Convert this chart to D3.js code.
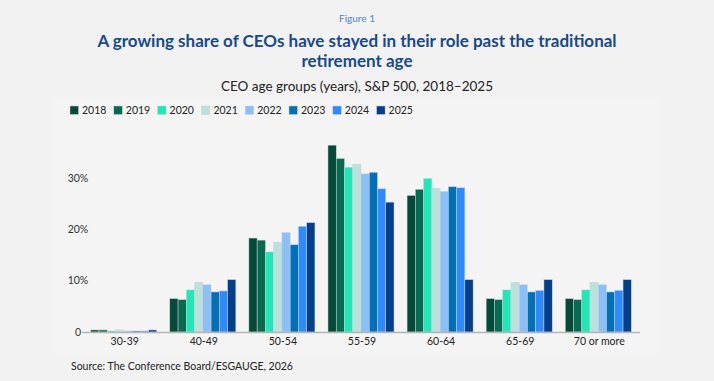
<!DOCTYPE html>
<html>
<head>
<meta charset="utf-8">
<script src="https://cdn.jsdelivr.net/npm/d3@7"></script>
<style>
    body { margin: 0; background: #f2f2f2; }
    svg { display: block; font-family: Lato, "Noto Sans", sans-serif; }
</style>
</head>
<body>
<svg id="chart" width="714" height="381"></svg>
<script>
const categories = ["30-39", "40-49", "50-54", "55-59", "60-64", "65-69", "70 or more"];
const years = ["2018", "2019", "2020", "2021", "2022", "2023", "2024", "2025"];

// share of CEOs (%) per age group, one array per year
const v2018 = [0.4, 6.5, 18.3, 36.4, 26.6, 6.5, 6.5];
const v2019 = [0.4, 6.3, 17.9, 33.8, 27.8, 6.3, 6.3];
const v2020 = [0.2, 8.2, 15.6, 32.1, 29.9, 8.2, 8.2];
const v2021 = [0.4, 9.7, 17.5, 32.7, 28.0, 9.7, 9.7];
const v2022 = [0.2, 9.2, 19.4, 30.8, 27.4, 9.2, 9.2];
const v2023 = [0.2, 7.8, 17.0, 31.1, 28.3, 7.8, 7.8];
const v2024 = [0.2, 8.0, 20.6, 27.9, 28.1, 8.1, 8.1];
const v2025 = [0.4, 10.2, 21.3, 25.3, 10.2, 10.2, 10.2];
const seriesValues = [v2018, v2019, v2020, v2021, v2022, v2023, v2024, v2025];

const yTicks = [0, 10, 20, 30];
const colors = ["#044a38", "#076b52", "#1ee8b6", "#bbe1dc", "#8bbff8", "#0071b7", "#2e8bff", "#033f8a"];

const svg = d3.select("#chart");

// subtle chart panel
svg.append("rect")
    .attr("x", 55).attr("y", 98)
    .attr("width", 602).attr("height", 258)
    .attr("fill", "#f4f4f4");

// Titles
svg.append("text")
    .attr("x", 357).attr("y", 22)
    .attr("text-anchor", "middle")
    .attr("font-size", "10px")
    .attr("fill", "#4f87c4")
    .text("Figure 1");

svg.append("text")
    .attr("x", 357).attr("y", 47)
    .attr("text-anchor", "middle")
    .attr("font-size", "17px")
    .attr("font-weight", "bold")
    .attr("fill", "#174a8b")
    .text("A growing share of CEOs have stayed in their role past the traditional");

svg.append("text")
    .attr("x", 357).attr("y", 67)
    .attr("text-anchor", "middle")
    .attr("font-size", "17px")
    .attr("font-weight", "bold")
    .attr("fill", "#174a8b")
    .text("retirement age");

svg.append("text")
    .attr("x", 357).attr("y", 91)
    .attr("text-anchor", "middle")
    .attr("font-size", "13.5px")
    .attr("fill", "#222")
    .text("CEO age groups (years), S&P 500, 2018\u20132025");

// Legend
const legend = svg.append("g").attr("transform", "translate(70, 106)");
years.forEach((yr, i) => {
    const g = legend.append("g").attr("transform", `translate(${i * 43.8}, 0)`);
    g.append("rect")
        .attr("width", 8.5).attr("height", 8.5)
        .attr("fill", colors[i])
        .attr("stroke", "#cfcfcf").attr("stroke-width", 0.5);
    g.append("text")
        .attr("x", 12).attr("y", 8)
        .attr("font-size", "10.5px")
        .attr("fill", "#222")
        .text(yr);
});

// Scales
const x0 = d3.scaleBand().domain(categories).range([82, 640]).paddingInner(0.165).paddingOuter(0.11);
const x1 = d3.scaleBand().domain(years).range([0, x0.bandwidth()]);
const y = d3.scaleLinear().domain([0, 30]).range([332, 178]);

// Bars
const groups = svg.append("g").selectAll("g")
    .data(categories)
    .join("g")
    .attr("transform", d => `translate(${x0(d)}, 0)`);

groups.selectAll("rect")
    .data((d, ci) => years.map((yr, si) => ({ yr, si, value: seriesValues[si][ci] })))
    .join("rect")
    .attr("x", d => x1(d.yr))
    .attr("y", d => y(d.value))
    .attr("width", x1.bandwidth())
    .attr("height", d => y(0) - y(d.value))
    .attr("fill", d => colors[d.si])
    .attr("stroke", "#d2d2d2")
    .attr("stroke-width", 0.5);

// Baseline
svg.append("line")
    .attr("x1", 82).attr("x2", 640)
    .attr("y1", y(0) + 0.5).attr("y2", y(0) + 0.5)
    .attr("stroke", "#b5b5b5")
    .attr("stroke-width", 1.6);

// Y tick labels
svg.append("g").selectAll("text")
    .data(yTicks)
    .join("text")
    .attr("x", 78)
    .attr("y", d => y(d) + 3.5)
    .attr("text-anchor", "middle")
    .attr("font-size", "10.5px")
    .attr("fill", "#333")
    .text(d => d === 0 ? "0" : d + "%");

// X labels
svg.append("g").selectAll("text")
    .data(categories)
    .join("text")
    .attr("x", d => x0(d) + x0.bandwidth() / 2 + 1)
    .attr("y", 345)
    .attr("text-anchor", "middle")
    .attr("font-size", "10.5px")
    .attr("fill", "#222")
    .text(d => d);

// Source
svg.append("text")
    .attr("x", 71).attr("y", 370)
    .attr("font-size", "10.5px")
    .attr("fill", "#222")
    .text("Source: The Conference Board/ESGAUGE, 2026");
</script>
</body>
</html>
